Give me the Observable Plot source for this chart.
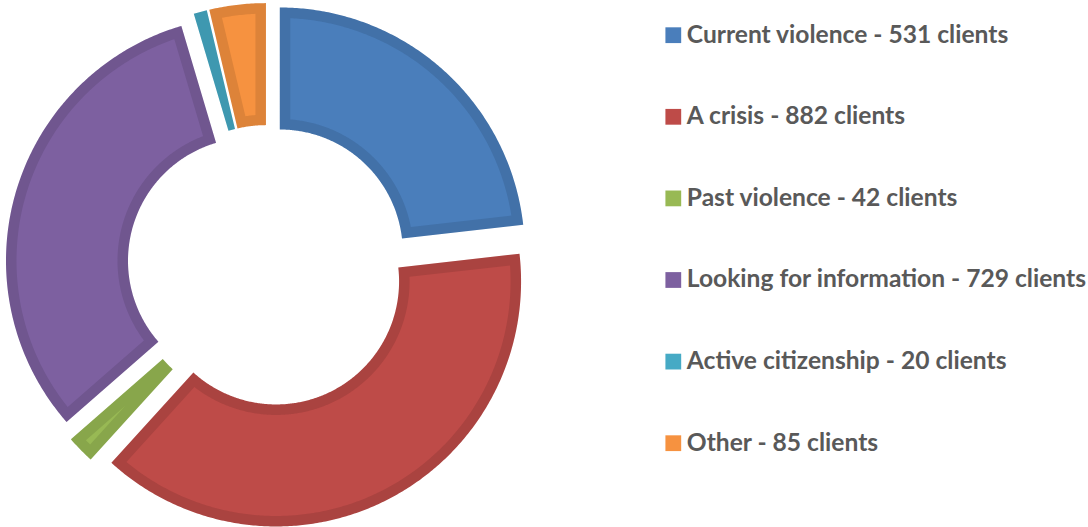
<!DOCTYPE html>
<html><head><meta charset="utf-8">
<script src="https://cdn.jsdelivr.net/npm/d3@7"></script>
<script src="https://cdn.jsdelivr.net/npm/@observablehq/plot@0.6"></script>
<style>body{margin:0;background:#fff}</style>
</head><body><div id="chart"></div>
<script>
const categories = ["Current violence", "A crisis", "Past violence", "Looking for information", "Active citizenship", "Other"];
const clients = [531, 882, 42, 729, 20, 85];
const colors = ["#4A7EBB", "#BE4B48", "#98B954", "#7D60A0", "#46AAC5", "#F69240"];

const W = 1088, H = 527;
const CX = 267.5, CY = 265.2, R_OUT = 245, R_IN = 123, EXPLODE = 17.7, BORDER = 10.5;
const LEG_X = 672.8, LEG_Y0 = 34.7, LEG_DY = 81.6;

const total = d3.sum(clients);
let acc = 0;
const slices = categories.map((c, i) => {
  const a0 = acc / total * 2 * Math.PI;
  acc += clients[i];
  const a1 = acc / total * 2 * Math.PI;
  return {category: c, value: clients[i], a0, a1, index: i};
});

function pt(s, a, r) {
  const mid = (s.a0 + s.a1) / 2;
  return {category: s.category,
    x: CX + EXPLODE * Math.sin(mid) + r * Math.sin(a),
    y: CY - EXPLODE * Math.cos(mid) - r * Math.cos(a)};
}
function arcPts(s, a0, a1, r) {
  const n = Math.max(2, Math.ceil(Math.abs(a1 - a0) / (Math.PI / 360)));
  return d3.range(n + 1).map(k => pt(s, a0 + (a1 - a0) * k / n, r));
}
const outerPts = slices.flatMap(s => arcPts(s, s.a0, s.a1, R_OUT).concat(arcPts(s, s.a1, s.a0, R_IN)));
const innerPts = slices.flatMap(s => {
  const d = BORDER, ro = R_OUT - d, da = Math.asin(d / ro), span = s.a1 - s.a0;
  if (span <= 2 * da) return [];
  const rApex = d / Math.sin(span / 2);
  const rs = Math.max(R_IN + d, rApex);
  if (rs >= ro) return [];
  const top = arcPts(s, s.a0 + da, s.a1 - da, ro);
  let bottom;
  if (rApex < R_IN + d) {
    const db = Math.asin(d / rs);
    bottom = arcPts(s, s.a1 - db, s.a0 + db, rs);
  } else {
    bottom = [pt(s, (s.a0 + s.a1) / 2, rApex)];
  }
  return top.concat(bottom);
});

const chart = Plot.plot({
  width: W, height: H, margin: 0,
  x: {domain: [0, W], range: [0, W], axis: null},
  y: {domain: [0, H], range: [0, H], axis: null},
  color: {domain: categories, range: colors},
  style: {fontFamily: "Lato, 'Open Sans', sans-serif", background: "#fff"},
  marks: [
    Plot.line(outerPts, {x: "x", y: "y", z: "category", fill: "category", stroke: "none"}),
    Plot.line(outerPts, {x: "x", y: "y", z: "category", fill: "black", fillOpacity: 0.1, stroke: "none"}),
    Plot.line(innerPts, {x: "x", y: "y", z: "category", fill: "category", stroke: "none"}),
    Plot.dot(slices, {x: () => LEG_X, y: d => LEG_Y0 + d.index * LEG_DY, symbol: "square", r: 8.9, fill: "category", stroke: "none"}),
    Plot.text(slices, {x: () => LEG_X + 13.5, y: d => LEG_Y0 + d.index * LEG_DY - 0.5, text: d => `${d.category} - ${d.value} clients`,
      textAnchor: "start", fill: "#595959", fontWeight: "bold", fontSize: 24.6})
  ]
});
document.getElementById("chart").appendChild(chart);
</script>
</body></html>
